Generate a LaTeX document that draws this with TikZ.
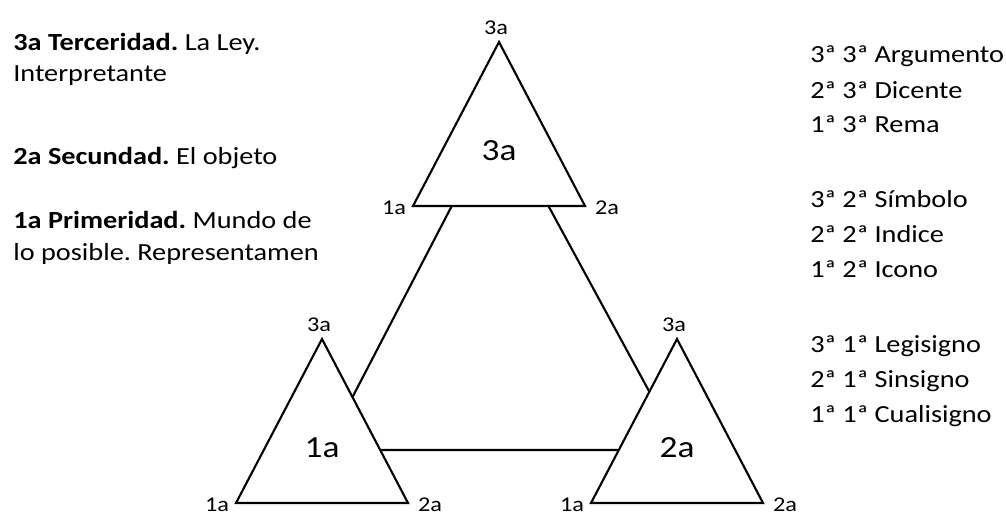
\documentclass[tikz,border=0pt]{standalone}
\usepackage{fontspec}
\setmainfont{Carlito}[FakeStretch=1.15]
\frenchspacing

\tikzset{
  tri/.style={draw, fill=white, line width=1.2pt, line join=miter},
  link/.style={draw, line width=1.2pt},
  bigtag/.style={font=\fontsize{17.5}{20}\selectfont, inner sep=0pt},
  cornertag/.style={font=\fontsize{12}{14}\selectfont, inner sep=0pt},
  sidetext/.style={font=\fontsize{14}{17}\selectfont, anchor=base west, inner sep=0pt}
}

\begin{document}
\begin{tikzpicture}[x=0.02cm, y=-0.02cm]
\useasboundingbox (0,0) rectangle (1006,517);

% Linking triangle, hidden inside the small ones
\coordinate (lk-top) at (499,115);
\coordinate (lk-left) at (325,450);
\coordinate (lk-right) at (681,450);
\draw[link] (lk-top) -- (lk-left) -- (lk-right) -- cycle;

% The three triangles with their corners
\foreach \n/\x/\y/\lab in {top/499/42/3a, left/322/339/1a, right/677/339/2a} {
  \coordinate (\n-apex) at (\x,\y);
  \coordinate (\n-bl) at (\x-86,\y+164);
  \coordinate (\n-br) at (\x+86,\y+164);
  \draw[tri] (\n-apex) -- (\n-bl) -- (\n-br) -- cycle;
  \node[bigtag] (\n-name) at (\x,\y+109) {\lab};
  \node[cornertag] (\n-3) at (\x-3,\y-14) {3a};
  \node[cornertag] (\n-1) at (\x-105,\y+166) {1a};
  \node[cornertag] (\n-2) at (\x+108,\y+166) {2a};
}

% Categories on the left
\node[sidetext] (ley) at (13,51) {\textbf{3a Terceridad.} La Ley.};
\node[sidetext] (interp) at (13,82) {Interpretante};
\node[sidetext] (obj) at (13,164) {\textbf{2a Secundad.} El objeto};
\node[sidetext] (prim) at (13,228) {\textbf{1a Primeridad.} Mundo de};
\node[sidetext] (repr) at (13,260) {lo posible. Representamen};

% Classes of signs on the right
\foreach \y/\t [count=\i] in {63/{3ª 3ª Argumento}, 98/{2ª 3ª Dicente}, 132/{1ª 3ª Rema},
                              207/{3ª 2ª Símbolo}, 242/{2ª 2ª Indice}, 277/{1ª 2ª Icono},
                              352/{3ª 1ª Legisigno}, 387/{2ª 1ª Sinsigno}, 422/{1ª 1ª Cualisigno}} {
  \node[sidetext] (cls-\i) at (810,\y) {\t};
}

\end{tikzpicture}
\end{document}
